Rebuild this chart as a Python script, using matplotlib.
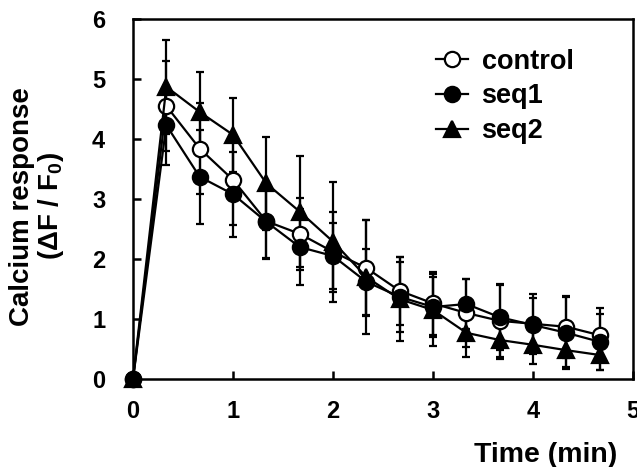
import numpy as np
import matplotlib
matplotlib.use('Agg')
import matplotlib.pyplot as plt

# time points every 20 s
time_min = [0, 1/3, 2/3, 1, 4/3, 5/3, 2, 7/3, 8/3, 3, 10/3, 11/3, 4, 13/3, 14/3]

control = [0, 4.55, 3.84, 3.32, 2.63, 2.42, 2.12, 1.85, 1.47, 1.26, 1.10, 0.97, 0.92, 0.87, 0.73]
control_sd = [0, 0.75, 0.76, 0.75, 0.62, 0.60, 0.67, 0.80, 0.57, 0.53, 0.56, 0.60, 0.50, 0.52, 0.45]
seq1 = [0, 4.23, 3.37, 3.08, 2.62, 2.20, 2.05, 1.62, 1.37, 1.20, 1.25, 1.03, 0.90, 0.77, 0.62]
seq1_sd = [0, 0.66, 0.78, 0.71, 0.62, 0.63, 0.55, 0.55, 0.58, 0.50, 0.42, 0.55, 0.45, 0.60, 0.47]
seq2 = [0, 4.87, 4.45, 4.07, 3.26, 2.79, 2.29, 1.70, 1.33, 1.15, 0.77, 0.65, 0.57, 0.48, 0.40]
seq2_sd = [0, 0.78, 0.67, 0.62, 0.78, 0.92, 1.00, 0.95, 0.70, 0.60, 0.40, 0.32, 0.32, 0.28, 0.25]

plt.rcParams['font.family'] = ['Liberation Sans', 'DejaVu Sans']
plt.rcParams['font.weight'] = 'bold'
plt.rcParams['mathtext.fontset'] = 'custom'
plt.rcParams['mathtext.rm'] = 'Liberation Sans:bold'
plt.rcParams['mathtext.default'] = 'rm'

fig = plt.figure(figsize=(6.37, 4.67), dpi=100)
ax = fig.add_axes([133/637, 88/467, 500/637, 360/467])

series = [
    ('control', control, control_sd, 'o', 'white'),
    ('seq1', seq1, seq1_sd, 'o', 'black'),
    ('seq2', seq2, seq2_sd, '^', 'black'),
]
handles = []
for name, vals, sd, mk, fc in series:
    cont = ax.errorbar(time_min, vals, yerr=sd, fmt='-', marker=mk, color='black',
                       mfc=fc, mec='black', mew=1.6, ms=11 if mk == 'o' else 12,
                       lw=1.6, elinewidth=1.6, capsize=3, capthick=1.6, label=name)
    cont[0].set_clip_on(False)
    handles.append(cont[0])

ax.set_xlim(0, 5)
ax.set_ylim(0, 6)
ax.set_xticks([0, 1, 2, 3, 4, 5])
ax.set_yticks([0, 1, 2, 3, 4, 5, 6])
ax.tick_params(direction='in', length=6, width=1.8, labelsize=17)
ax.tick_params(axis='x', pad=15)
ax.tick_params(axis='y', pad=20)
for s in ax.spines.values():
    s.set_linewidth(1.8)

ax.set_xlabel('Time (min)', fontsize=20.5, fontweight='bold', ha='right')
ax.xaxis.set_label_coords(0.968, -0.175)
ax.set_ylabel('Calcium response\n(ΔF / F$_{0}$)', fontsize=20, fontweight='bold',
              linespacing=1.0)
ax.yaxis.set_label_coords(-0.135, 0.48)

leg = ax.legend(handles, [s[0] for s in series], loc='upper left',
                bbox_to_anchor=(0.605, 0.918), frameon=False,
                fontsize=19.5, handlelength=1.2, handletextpad=0.5,
                labelspacing=0.33, borderaxespad=0, borderpad=0)
for t in leg.get_texts():
    t.set_fontweight('bold')

fig.savefig('out.png', dpi=100)
